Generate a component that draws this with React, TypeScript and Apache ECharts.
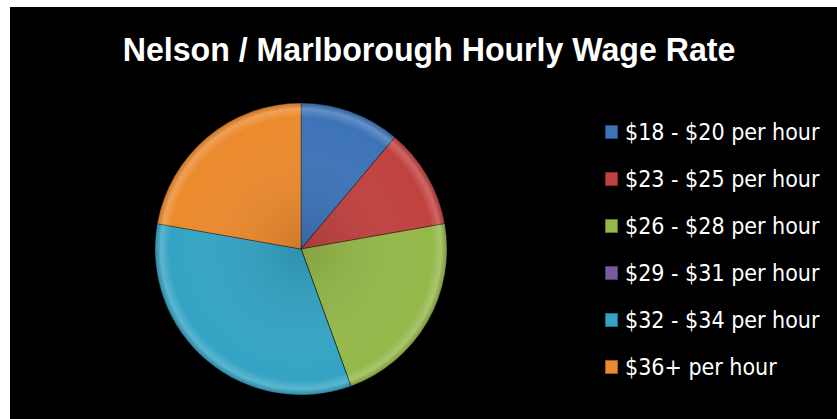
import React, { useEffect, useRef } from "react";
import * as echarts from "echarts";

const titleText = "Nelson / Marlborough Hourly Wage Rate";
const categories = [
  "$18 - $20 per hour",
  "$23 - $25 per hour",
  "$26 - $28 per hour",
  "$29 - $31 per hour",
  "$32 - $34 per hour",
  "$36+ per hour",
];
const values = [1, 1, 2, 0, 3, 2];
const colors = ["#3d74b8", "#c0423f", "#95b84a", "#7a5a9e", "#34a4c4", "#ec8a2e"];

const FONT = "'DejaVu Sans Condensed', 'Liberation Sans Narrow', 'Liberation Sans', sans-serif";

export default function App() {
  const ref = useRef<HTMLDivElement>(null);
  useEffect(() => {
    if (!ref.current) return;
    const chart = echarts.init(ref.current, null, { renderer: "svg" });
    const data = categories.map((name, i) => ({
      name,
      value: values[i],
      itemStyle: { color: colors[i] },
    }));
    const overlay = categories.map((name, i) => ({ name, value: values[i] }));
    chart.setOption({
      animation: false,
      backgroundColor: "#000000",
      graphic: [
        {
          type: "text",
          x: 419,
          y: 42,
          scaleX: 0.945,
          style: {
            text: titleText,
            fill: "#ffffff",
            fontFamily: "'Liberation Sans', Arial, sans-serif",
            fontWeight: "bold",
            fontSize: 34,
            align: "center",
            verticalAlign: "middle",
          },
        },
      ],
      legend: {
        orient: "vertical",
        left: 589,
        top: 108,
        itemWidth: 13,
        itemHeight: 14,
        itemGap: 23,
        icon: "rect",
        data: categories,
        textStyle: {
          color: "#ffffff",
          fontFamily: FONT,
          fontSize: 23,
          lineHeight: 24,
          padding: [0, 0, 0, 2],
        },
      },
      series: [
        {
          type: "pie",
          center: [291, 242],
          radius: [0, 146],
          startAngle: 90,
          clockwise: true,
          label: { show: false },
          labelLine: { show: false },
          itemStyle: { borderColor: "rgba(0,0,0,0.35)", borderWidth: 1 },
          emphasis: { disabled: true },
          data,
        },
        {
          type: "pie",
          center: [291, 242],
          radius: [0, 146],
          startAngle: 90,
          clockwise: true,
          silent: true,
          legendHoverLink: false,
          label: { show: false },
          labelLine: { show: false },
          emphasis: { disabled: true },
          itemStyle: {
            color: {
              type: "radial",
              x: 291,
              y: 242,
              r: 146,
              global: true,
              colorStops: [
                { offset: 0, color: "rgba(0,0,0,0.12)" },
                { offset: 0.9, color: "rgba(255,255,255,0)" },
                { offset: 0.96, color: "rgba(255,255,255,0.2)" },
                { offset: 1, color: "rgba(0,0,0,0.15)" },
              ],
            },
            borderWidth: 0,
          },
          data: overlay,
        },
      ],
    });
    return () => chart.dispose();
  }, []);
  return (
    <div
      ref={ref}
      style={{ position: "absolute", left: 10, top: 7, width: 827, height: 412 }}
    />
  );
}
